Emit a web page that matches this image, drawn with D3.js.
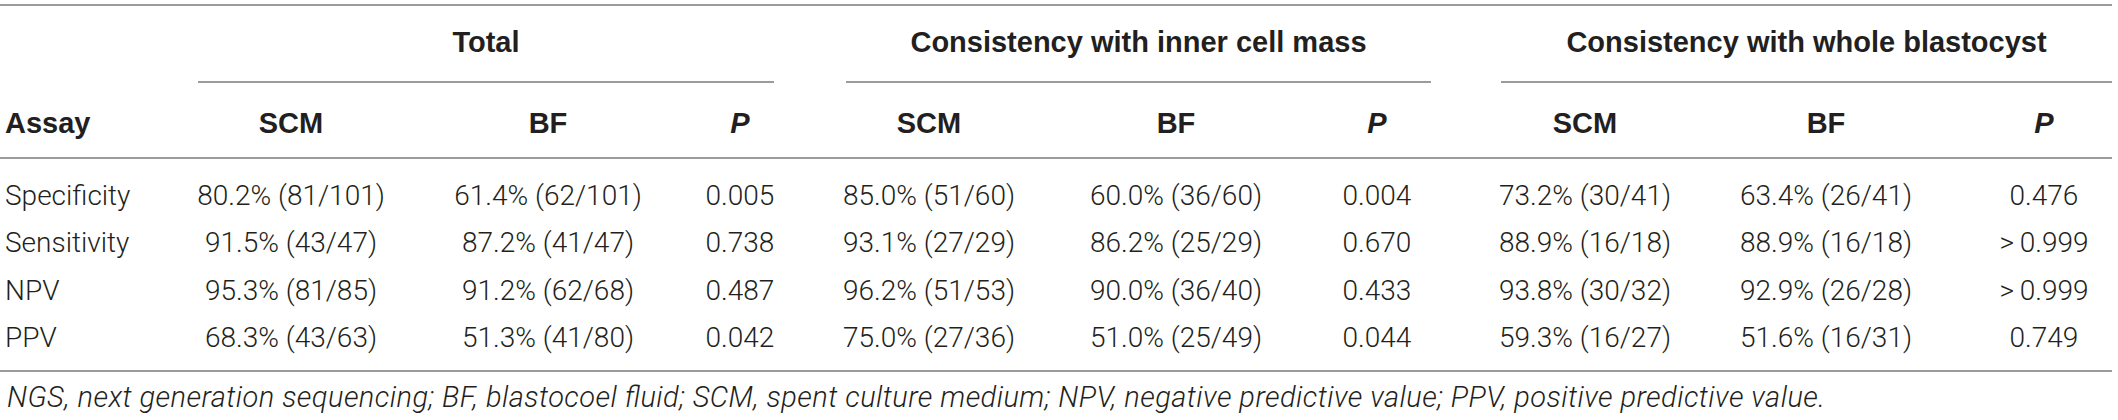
<!DOCTYPE html>
<html><head><meta charset="utf-8">
<script src="https://cdn.jsdelivr.net/npm/d3@7"></script>
<style>
html,body{margin:0;padding:0;background:#fff;}
svg{display:block;}
</style></head>
<body>
<script>
// ---- data ----
const assays = ["Specificity", "Sensitivity", "NPV", "PPV"];
const groups = ["Total", "Consistency with inner cell mass", "Consistency with whole blastocyst"];
const subColumns = ["SCM", "BF", "P"];
const totalSCM = ["80.2% (81/101)", "91.5% (43/47)", "95.3% (81/85)", "68.3% (43/63)"];
const totalBF  = ["61.4% (62/101)", "87.2% (41/47)", "91.2% (62/68)", "51.3% (41/80)"];
const totalP   = ["0.005", "0.738", "0.487", "0.042"];
const icmSCM   = ["85.0% (51/60)", "93.1% (27/29)", "96.2% (51/53)", "75.0% (27/36)"];
const icmBF    = ["60.0% (36/60)", "86.2% (25/29)", "90.0% (36/40)", "51.0% (25/49)"];
const icmP     = ["0.004", "0.670", "0.433", "0.044"];
const wbSCM    = ["73.2% (30/41)", "88.9% (16/18)", "93.8% (30/32)", "59.3% (16/27)"];
const wbBF     = ["63.4% (26/41)", "88.9% (16/18)", "92.9% (26/28)", "51.6% (16/31)"];
const wbP      = ["0.476", ">\u20090.999", ">\u20090.999", "0.749"];
const footnote = "NGS, next generation sequencing; BF, blastocoel fluid; SCM, spent culture medium; NPV, negative predictive value; PPV, positive predictive value.";

const groupValues = [[totalSCM, totalBF, totalP], [icmSCM, icmBF, icmP], [wbSCM, wbBF, wbP]];

// ---- layout ----
const W = 2118, H = 420;
const colKeys = [];
groups.forEach((g, gi) => subColumns.forEach((s, si) => colKeys.push(gi + "-" + si)));
const colCenters = [291, 548, 740, 929, 1176, 1377, 1585, 1826, 2044];
const x = d3.scaleOrdinal().domain(colKeys).range(colCenters);
const groupSpans = [[198, 774], [846, 1431], [1501, 2112]];
const y = d3.scalePoint().domain(assays).range([205, 347]); // baselines
const textColor = "#231f20";
const lineColor = "#7a7a7a";
const font = "'Liberation Sans', Arial, Helvetica, sans-serif";
const lightFont = "Roboto, 'Liberation Sans', Arial, sans-serif";

const svg = d3.select("body").append("svg").attr("width", W).attr("height", H)
  .style("font-family", font);

function hline(x1, x2, yy) {
  svg.append("line").attr("x1", x1).attr("x2", x2).attr("y1", yy).attr("y2", yy)
    .attr("stroke", lineColor).attr("stroke-width", 1.6);
}
hline(0, 2112, 5);
groupSpans.forEach(s => hline(s[0], s[1], 82));
hline(0, 2112, 158);
hline(0, 2112, 371);

// group headers
svg.selectAll("text.group").data(groups).join("text").attr("class", "group")
  .attr("x", (d, i) => (groupSpans[i][0] + groupSpans[i][1]) / 2)
  .attr("y", 52).attr("text-anchor", "middle")
  .attr("font-weight", "bold").attr("font-size", 29).attr("fill", textColor)
  .text(d => d);

// column headers
svg.append("text").attr("x", 5).attr("y", 133)
  .attr("font-weight", "bold").attr("font-size", 29).attr("fill", textColor).text("Assay");
const headerCells = colKeys.map(k => ({k, label: subColumns[+k.split("-")[1]]}));
svg.selectAll("text.colh").data(headerCells).join("text").attr("class", "colh")
  .attr("x", d => x(d.k)).attr("y", 133).attr("text-anchor", "middle")
  .attr("font-weight", "bold").attr("font-size", 29).attr("fill", textColor)
  .attr("font-style", d => d.label === "P" ? "italic" : "normal")
  .text(d => d.label);

// row labels
svg.selectAll("text.rowl").data(assays).join("text").attr("class", "rowl")
  .attr("x", 5).attr("y", d => y(d))
  .style("font-family", lightFont).attr("font-weight", 300)
  .attr("font-size", 28).attr("fill", textColor).text(d => d);

// cells
const cells = [];
groupValues.forEach((cols, gi) => cols.forEach((vals, si) => vals.forEach((v, ri) =>
  cells.push({k: gi + "-" + si, row: assays[ri], v}))));
svg.selectAll("text.cell").data(cells).join("text").attr("class", "cell")
  .attr("x", d => x(d.k)).attr("y", d => y(d.row)).attr("text-anchor", "middle")
  .style("font-family", lightFont).attr("font-weight", 300)
  .attr("font-size", 28).attr("fill", textColor).text(d => d.v);

// footnote
svg.append("text").attr("x", 7).attr("y", 407)
  .style("font-family", lightFont).attr("font-weight", 300)
  .attr("font-size", 29).attr("font-style", "italic").attr("fill", textColor)
  .attr("textLength", 1818).attr("lengthAdjust", "spacing")
  .text(footnote);
</script>
</body></html>
